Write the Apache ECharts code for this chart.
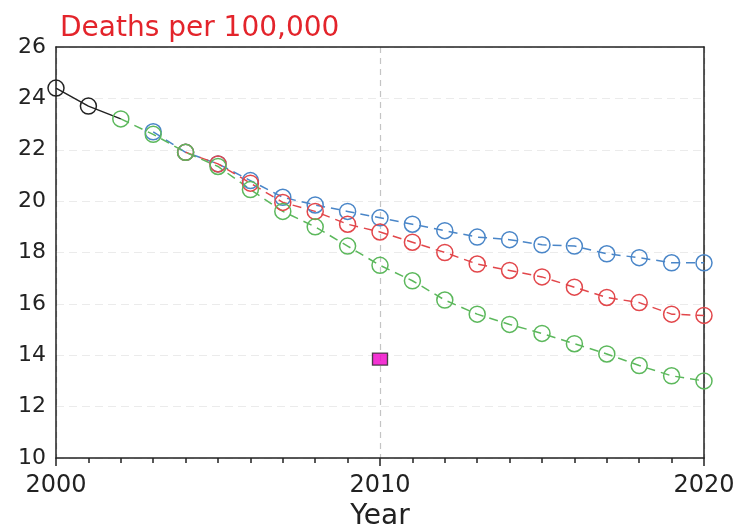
<!DOCTYPE html>
<html>
<head>
<meta charset="utf-8">
<script src="https://cdn.jsdelivr.net/npm/echarts@6/dist/echarts.min.js"></script>
<style>html,body{margin:0;padding:0;background:#fff}#chart{width:738px;height:525px}</style>
</head>
<body>
<div id="chart"></div>
<script>
var years = [2000,2001,2002,2003,2004,2005,2006,2007,2008,2009,2010,2011,2012,2013,2014,2015,2016,2017,2018,2019,2020];
var observed = [24.4,23.7,23.2,null,null,null,null,null,null,null,null,null,null,null,null,null,null,null,null,null,null];
var blueSeries = [null,null,null,22.7,21.9,21.45,20.8,20.15,19.85,19.6,19.35,19.1,18.85,18.6,18.5,18.3,18.25,17.95,17.8,17.6,17.6];
var redSeries = [null,null,null,null,21.9,21.45,20.7,19.95,19.6,19.1,18.8,18.4,18.0,17.55,17.3,17.05,16.65,16.25,16.05,15.6,15.55];
var greenSeries = [null,null,23.2,22.6,21.9,21.35,20.45,19.6,19.0,18.25,17.5,16.9,16.15,15.6,15.2,14.85,14.45,14.05,13.6,13.2,13.0];
var targetYear = [2010];
var targetValue = [13.85];
var yTicks = [10,12,14,16,18,20,22,24,26];
var xTicks = [2000,2010,2020];

function pairs(vals){
  var out = [];
  for (var i = 0; i < years.length; i++) { if (vals[i] !== null) out.push([years[i], vals[i]]); }
  return out;
}
function dashedSeries(vals, color){
  return {
    type: 'line', data: pairs(vals), symbol: 'circle', symbolSize: 16,
    itemStyle: { color: 'rgba(255,255,255,0)', borderColor: color, borderWidth: 1.5 },
    lineStyle: { color: color, width: 1.5, type: [9, 6] },
    emphasis: { disabled: true }, animation: false
  };
}
var chart = echarts.init(document.getElementById('chart'), null, { renderer: 'canvas' });
var font = 'DejaVu Sans';
var frameAxisLine = { show: true, lineStyle: { color: '#222', width: 1.5 } };
chart.setOption({
  animation: false,
  backgroundColor: '#ffffff',
  title: {
    text: 'Deaths per 100,000', left: 55, top: 10,
    textStyle: { color: '#e3242b', fontSize: 28, fontWeight: 'normal', fontFamily: font }
  },
  grid: { left: 56, right: 34, top: 47, bottom: 67, show: false, containLabel: false, outerBoundsMode: 'none' },
  xAxis: [{
    type: 'value', min: xTicks[0], max: xTicks[xTicks.length - 1], interval: 10,
    name: 'Year', nameLocation: 'middle', nameGap: 36,
    nameTextStyle: { fontSize: 28, color: '#222', fontFamily: font },
    axisLine: frameAxisLine,
    axisTick: { show: true, length: 8, lineStyle: { color: '#222', width: 1.5 } },
    minorTick: { show: true, splitNumber: 10, length: 5, lineStyle: { color: '#222', width: 1.5 } },
    axisLabel: { fontSize: 24, color: '#222', fontFamily: font, margin: 16, formatter: function(v){ return String(v); } },
    splitLine: { show: true, lineStyle: { color: '#c4c4c4', type: [6, 5], width: 1.2 } }
  }, {
    type: 'value', position: 'top', min: xTicks[0], max: xTicks[xTicks.length - 1], interval: 10,
    axisLine: frameAxisLine, axisTick: { show: false }, axisLabel: { show: false }, splitLine: { show: false }
  }],
  yAxis: [{
    type: 'value', min: yTicks[0], max: yTicks[yTicks.length - 1], interval: 2,
    axisLine: frameAxisLine,
    axisTick: { show: false },
    axisLabel: { fontSize: 22, color: '#222', fontFamily: font, margin: 10 },
    splitLine: { show: true, lineStyle: { color: '#ebebeb', type: [8, 5], width: 1 } }
  }, {
    type: 'value', position: 'right', min: yTicks[0], max: yTicks[yTicks.length - 1], interval: 2,
    axisLine: frameAxisLine, axisTick: { show: false }, axisLabel: { show: false }, splitLine: { show: false }
  }],
  series: [
    {
      type: 'line', data: pairs(observed),
      symbol: function(v, p){ return p.dataIndex === 2 ? 'none' : 'circle'; },
      symbolSize: 16,
      itemStyle: { color: 'rgba(255,255,255,0)', borderColor: '#222', borderWidth: 1.5 },
      lineStyle: { color: '#222', width: 1.5, type: 'solid' },
      emphasis: { disabled: true }
    },
    dashedSeries(blueSeries, '#4a86c8'),
    dashedSeries(redSeries, '#e2474b'),
    dashedSeries(greenSeries, '#5cb85c'),
    {
      type: 'scatter', data: [[targetYear[0], targetValue[0]]], symbol: 'rect', symbolSize: [15, 12],
      itemStyle: { color: '#f000c8', borderColor: '#222', borderWidth: 1.2 }, z: 5,
      emphasis: { disabled: true }
    }
  ]
});
</script>
</body>
</html>
